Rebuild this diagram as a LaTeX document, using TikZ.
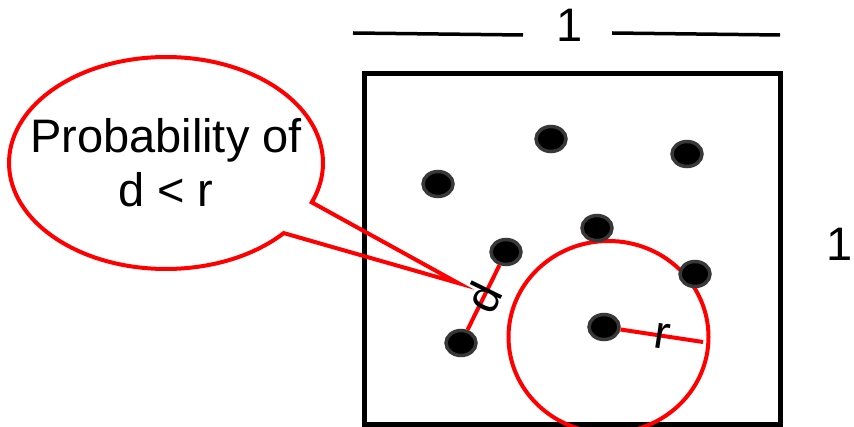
\documentclass[tikz,border=0pt]{standalone}
\usepackage{fontspec}
\setmainfont{Liberation Sans}
\usepackage{tikz}
\usetikzlibrary{shapes}

\tikzset{
    sample/.style={ellipse, fill=black, draw=black!78, line width=3.5pt,
        minimum width=30pt, minimum height=25pt, inner sep=0pt},
    redline/.style={red, line width=4pt},
    bigtext/.style={font=\fontsize{47}{54}\selectfont, inner sep=0pt, text=black}
}

\begin{document}
\begin{tikzpicture}[x=1pt, y=-1pt]
        \useasboundingbox (0,0) rectangle (854,427);

        % Unit square
        \draw[line width=5pt] (364.5,74) rectangle (780,424);
        \node[bigtext] (top) at (570,25) {1};
        \node[bigtext] (side) at (840,244) {1};
        \coordinate (tl1) at (353,33);
        \coordinate (tl2) at (523,35);
        \coordinate (tr1) at (612,33);
        \coordinate (tr2) at (780,35);
        \draw[line width=3.5pt] (tl1) -- (tl2);
        \draw[line width=3.5pt] (tr1) -- (tr2);

        % Circle of radius r
        \draw[redline] (608.5,337) ellipse [x radius=100, y radius=96];

        % Samples
        \foreach \name/\x/\y in {p1/438/184, p2/551/139, p3/687/154, p4/597/228,
                p5/506/252, p6/695/274, c/604/327, p8/461/343}
            \node[sample] (\name) at (\x,\y) {};

        % Distances
        \coordinate (rend) at (703,342);
        \draw[redline] (p5) -- (p8) node[midway, sloped, bigtext] (dlab) {d};
        \draw[redline] (c) -- (rend) node[midway, sloped, bigtext] (rlab) {r};

        % Speech bubble
        \node[bigtext, align=center] (bubble) at (166,163) {Probability of\\d < r};
        \coordinate (tail) at (458,283);
        \draw[redline, line join=miter] (tail)
            -- ([shift={(41.4:157 and 106)}]bubble.center)
            arc [start angle=41.4, end angle=381.8, x radius=157, y radius=106]
            -- cycle;
    \end{tikzpicture}
\end{document}
